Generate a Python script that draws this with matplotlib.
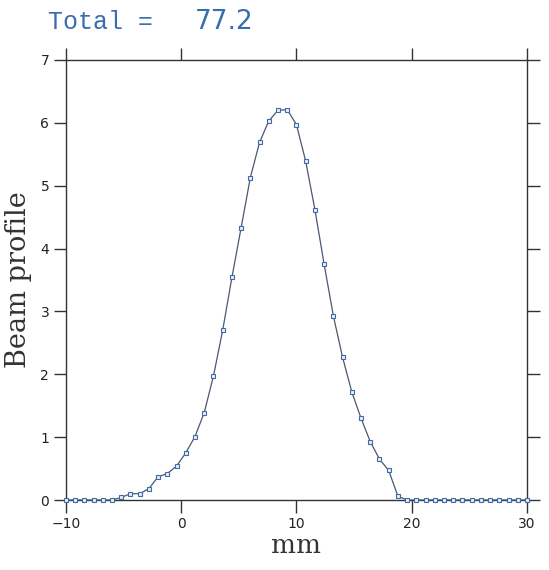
import matplotlib
matplotlib.use("Agg")
import matplotlib.pyplot as plt

# positions along the profile (mm), 0.8 mm step
x_mm = [-10.0, -9.2, -8.4, -7.6, -6.8, -6.0, -5.2, -4.4, -3.6, -2.8,
        -2.0, -1.2, -0.4, 0.4, 1.2, 2.0, 2.8, 3.6, 4.4, 5.2,
        6.0, 6.8, 7.6, 8.4, 9.2, 10.0, 10.8, 11.6, 12.4, 13.2,
        14.0, 14.8, 15.6, 16.4, 17.2, 18.0, 18.8, 19.6, 20.4, 21.2,
        22.0, 22.8, 23.6, 24.4, 25.2, 26.0, 26.8, 27.6, 28.4, 29.2, 30.0]

# beam profile values
profile = [0.0, 0.0, 0.0, 0.0, 0.0, 0.0, 0.04, 0.10, 0.10, 0.18,
           0.37, 0.42, 0.54, 0.75, 1.01, 1.39, 1.97, 2.70, 3.54, 4.33,
           5.13, 5.69, 6.03, 6.20, 6.21, 5.97, 5.39, 4.62, 3.75, 2.93,
           2.27, 1.72, 1.30, 0.93, 0.65, 0.47, 0.06, 0.0, 0.0, 0.0,
           0.0, 0.0, 0.0, 0.0, 0.0, 0.0, 0.0, 0.0, 0.0, 0.0, 0.0]

total_label = "77.2"

x_ticks = [-10, 0, 10, 20, 30]
y_ticks = [0, 1, 2, 3, 4, 5, 6, 7]

fig = plt.figure(figsize=(5.49, 5.70), dpi=100)
ax = fig.add_axes([0.12, 0.1228, 0.84, 0.772])

ax.plot(x_mm, profile, color="#4a5870", lw=0.9, marker="s", ms=3.5,
        mfc="#e8eef7", mec="#3f6aa8", mew=0.8, clip_on=False, zorder=3)

ax.set_xlim(-10, 30)
ax.set_ylim(0, 7)
ax.set_xticks(x_ticks)
ax.set_yticks(y_ticks)
ax.set_xticklabels(["\u221210", "0", "10", "20", "30"])

for s in ax.spines.values():
    s.set_linewidth(1.0)
    s.set_color("#333333")

ax.tick_params(which="both", direction="out", length=9, width=1.0,
               color="#333333", labelsize=10, pad=3, labelcolor="#222222",
               top=True, right=True, labeltop=False, labelright=False)

ax.set_xlabel("mm", family="DejaVu Serif", fontsize=19, color="#333333",
              labelpad=2)
ax.set_ylabel("Beam profile", family="DejaVu Serif", fontsize=19.5,
              color="#333333", labelpad=6)

fig.text(0.087, 0.961, "Total =", family="Liberation Mono", fontsize=18,
         color="#3a6cb0", va="center", ha="left")
fig.text(0.355, 0.961, total_label, family="DejaVu Sans", fontsize=19,
         color="#3a6cb0", va="center", ha="left")

plt.savefig("out.png", dpi=100)
